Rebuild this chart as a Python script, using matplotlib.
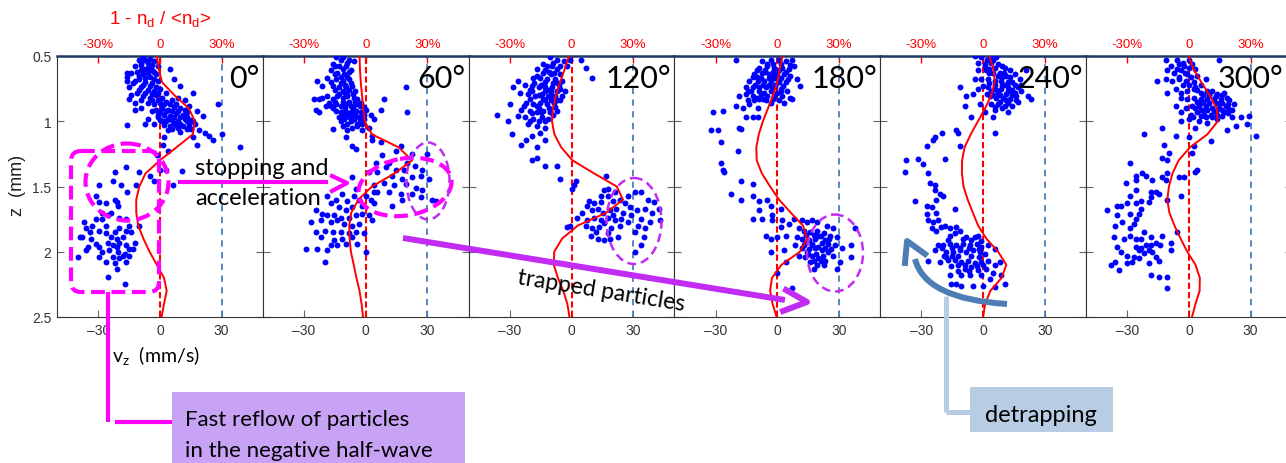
import numpy as np
import matplotlib
matplotlib.use('Agg')
import matplotlib.pyplot as plt
from matplotlib.patches import Ellipse, FancyBboxPatch, Rectangle, PathPatch
from matplotlib.path import Path

# 図のサイズ (px)
W, H = 1286, 464

# 位相ラベル
angles = ['0°', '60°', '120°', '180°', '240°', '300°']

# 密度変化曲線 1 - n_d/<n_d> [%] (z = 0.5 ... 2.5 mm)
z_grid = [0.5, 0.6, 0.7, 0.8, 0.9, 1.0, 1.1, 1.2, 1.3, 1.4, 1.5,
          1.6, 1.7, 1.8, 1.9, 2.0, 2.1, 2.2, 2.3, 2.4, 2.5]
dens_0 = [-1.5, -0.5, 1, 7, 14, 17, 16, 8, 0, -7, -10,
          -11.5, -11.5, -10.5, -8, -5, -1.5, 2, 3.3, 2, 0.8]
dens_60 = [-3, -2.8, -2.4, -1.8, -1.2, -0.5, 3, 16, 22.5, 14, 3,
           -3.5, -7, -8, -7.8, -7.2, -5.8, -4.5, -3, -2, -1.3]
dens_120 = [-1.3, -3.3, -5.5, -7.5, -9, -9.5, -8.3, -5, 0.5, 11, 22,
            25, 17, 3, -4.6, -8.4, -8.6, -6.6, -4, -2, -1]
dens_180 = [2.5, 1.2, 0, -2, -4.5, -7, -9, -10.2, -10, -7.5, -3.5,
            0.8, 6.5, 12.5, 14.5, 11, 2, -2.6, -3.5, -2.3, -0.3]
dens_240 = [3, 5, 5.7, 4, 1, -2.5, -6, -9, -10.2, -10.3, -9.5,
            -7.5, -5, -2.4, 1.6, 7.3, 11.3, 9, 3.5, 1, 0]
dens_300 = [0, 2.2, 6, 10, 13.5, 14, 9, 0.5, -5, -8, -9.7,
            -10.5, -9.5, -7, -4, -0.8, 3.2, 5.3, 5.2, 3.2, 1.5]

# 粒子 (v_z [mm/s], z [mm])
pts_0 = [
    (-8, 0.51), (-5, 0.52), (-10, 0.53), (-6, 0.55), (-3, 0.54), (-9, 0.57), (-12, 0.58), (-7, 0.6),
    (-4, 0.61), (-1, 0.58), (-11, 0.62), (-14, 0.63), (-8, 0.64), (-5, 0.66), (-2, 0.64), (-16, 0.66),
    (-10, 0.68), (-7, 0.7), (-13, 0.71), (-4, 0.71), (-1, 0.69), (-15, 0.74), (-9, 0.74), (-6, 0.76),
    (-11, 0.78), (-3, 0.77), (0, 0.75), (-14, 0.8), (-8, 0.81), (-5, 0.82), (-2, 0.8), (1, 0.82),
    (-12, 0.86), (-6, 0.86), (-3, 0.87), (0, 0.86), (3, 0.85), (6, 0.84), (-9, 0.9), (-4, 0.92),
    (1, 0.9), (4, 0.91), (7, 0.89), (10, 0.9), (-1, 0.95), (2, 0.95), (5, 0.96), (8, 0.94),
    (11, 0.95), (13, 0.93), (-6, 0.98), (0, 0.99), (3, 1.0), (6, 0.99), (9, 1.0), (12, 0.98),
    (15, 0.99), (-3, 1.02), (2, 1.03), (5, 1.04), (8, 1.03), (11, 1.04), (14, 1.03), (17, 1.02),
    (-16, 1.03), (-7, 1.02), (4, 1.07), (10, 1.08), (13, 1.06), (19, 1.07), (22, 1.09), (2, 1.12),
    (16, 1.12), (24, 1.11), (26, 1.14), (30, 1.1), (21, 0.96), (28, 0.87), (18, 1.18), (39, 1.2),
    (1.6, 1.18), (4, 1.23), (-1.6, 1.26), (-12, 0.91), (-15, 0.83), (-16, 0.69), (-16, 0.63), (10, 0.73),
    (5, 0.6), (7, 0.68), (16, 0.78), (12, 0.84), (3, 0.78), (9, 0.82), (14, 0.88), (18, 0.92),
    (-7, 0.53), (-9, 0.55), (-4, 0.57), (-6, 0.59), (-9, 0.61), (-3, 0.62), (-6, 0.63), (-10, 0.65),
    (-7, 0.67), (-3, 0.68), (-12, 0.69), (-8, 0.72), (-5, 0.73), (-2, 0.74), (-10, 0.76), (-7, 0.78),
    (-4, 0.79), (-1, 0.78), (-9, 0.84), (-4, 0.84), (-1, 0.84), (2, 0.87), (5, 0.87), (8, 0.87),
    (-2, 0.91), (3, 0.92), (6, 0.92), (9, 0.92), (12, 0.91), (0, 0.93), (4, 0.98), (7, 0.97),
    (10, 0.97), (13, 0.97), (1, 1.0), (7, 1.01), (10, 1.02), (13, 1.0), (16, 1.0), (6, 1.06),
    (9, 1.05), (15, 1.06), (-1, 0.97), (2, 1.0),
    (-16.4, 1.35), (-22, 1.39), (-23, 1.46), (-31, 1.57), (-29.5, 1.62), (-26, 1.63), (-22, 1.6), (-21, 1.62),
    (-20.5, 1.65), (-28, 1.7), (-37, 1.77), (-36, 1.82), (-33, 1.8), (-29.5, 1.84), (-26, 1.8), (-39, 1.89),
    (-33.6, 1.9), (-31, 1.94), (-26, 1.86), (-24, 1.89), (-22, 1.85), (-21, 1.9), (-19.7, 1.93), (-18, 1.89),
    (-16.4, 1.95), (-14.8, 1.98), (-14, 1.85), (-23, 1.95), (-24.6, 1.99), (-20.5, 2.0), (-18, 2.03), (-35, 1.96),
    (-36, 1.99), (-40, 2.04), (-29.5, 2.04), (-26, 2.08), (-22, 2.09), (-21, 2.13), (-25, 2.19), (-17, 2.25),
    (-19.7, 2.05), (-16.4, 2.08), (-13, 1.98), (-12, 1.93), (-10, 1.8), (-11.5, 1.49), (-10, 1.39), (-5, 1.42),
    (-3, 1.46), (0, 1.37), (3, 1.37), (6.5, 1.49), (10.6, 1.38), (-16, 1.54), (-19, 1.49), (-29.5, 1.49),
    (-37.7, 1.89), (-34, 1.85), (-31, 1.75), (-28, 1.75), (-25, 1.72), (-24, 1.7), (-19.7, 1.74), (-16.4, 1.75),
    (-14.8, 1.8), (-19.7, 1.82), (-16.4, 1.84), (-17.2, 2.02), (-23, 2.04), (-14.8, 2.03), (-29.5, 1.96), (-28, 2.0),
    (-25, 1.93), (-21, 1.96),
]
pts_60 = [
    (-14.6, 0.51), (-11, 0.51), (-8, 0.53), (-5.7, 0.54), (-16, 0.56), (-13, 0.58), (-9.7, 0.58), (-17, 0.61),
    (-13.8, 0.63), (-10.5, 0.64), (-7.3, 0.61), (-18.6, 0.67), (-14.6, 0.68), (-11, 0.69), (-8, 0.68), (-23.5, 0.69),
    (-21, 0.73), (-16, 0.73), (-13, 0.74), (-9.7, 0.74), (-6.5, 0.73), (-25, 0.83), (-22.7, 0.83), (-18.6, 0.81),
    (-16, 0.83), (-13.8, 0.81), (-11, 0.82), (-8.9, 0.81), (-5.7, 0.82), (-4, 0.83), (-19.4, 0.88), (-17, 0.88),
    (-14.6, 0.87), (-12, 0.88), (-9.7, 0.87), (-7.3, 0.88), (-4.9, 0.87), (-2.4, 0.86), (-24, 0.91), (-14.6, 0.92),
    (-12, 0.93), (-9.7, 0.93), (-7.3, 0.93), (-4.9, 0.92), (-2.4, 0.93), (0, 0.91), (-13, 0.97), (-10.5, 0.98),
    (-8, 0.97), (-5.7, 0.98), (-3.2, 0.97), (-0.8, 0.98), (2.4, 0.95), (4, 0.98), (-16, 1.06), (-11, 1.04),
    (-8.9, 1.07), (-6.5, 1.05), (-4, 1.04), (-1.6, 1.07), (1.6, 1.05), (3.2, 1.11), (7.3, 1.16), (-4.9, 1.21),
    (-6.5, 1.19), (-9.7, 1.12), (3.2, 1.14), (8.9, 0.83), (7.3, 0.91), (19.4, 0.74), (20, 0.93), (-22.7, 0.93),
    (-17.8, 0.86), (-21, 0.82), (-10, 0.78), (-6, 0.9), (-3, 1.0), (-12, 1.0), (-7, 0.95), (-1, 0.89),
    (-12, 0.53), (-9, 0.55), (-15, 0.58), (-11, 0.6), (-8, 0.62), (-15, 0.64), (-12, 0.66), (-9, 0.66),
    (-17, 0.7), (-12, 0.71), (-10, 0.72), (-7, 0.71), (-15, 0.76), (-11, 0.77), (-8, 0.76), (-5, 0.77),
    (-13, 0.79), (-9, 0.8), (-6, 0.79), (-15, 0.85), (-11, 0.85), (-8, 0.85), (-5, 0.85), (-3, 0.88),
    (-16, 0.9), (-10, 0.9), (-6, 0.91), (-1, 0.95), (-9, 0.95), (-5, 0.95), (-11, 0.95), (-7, 1.0),
    (-4, 1.02), (-2, 1.02), (-9, 1.02),
    (17, 1.19), (14.6, 1.23), (22.7, 1.25), (30, 1.25), (8, 1.26), (11.3, 1.32), (4.9, 1.32), (20, 1.32),
    (24, 1.34), (27.5, 1.37), (18.6, 1.37), (14.6, 1.37), (9.7, 1.35), (5.7, 1.39), (1.6, 1.39), (13, 1.42),
    (17.8, 1.44), (22.7, 1.43), (26.7, 1.42), (30.8, 1.44), (9, 1.47), (13.8, 1.49), (19.4, 1.48), (24.3, 1.51),
    (27.5, 1.53), (4, 1.49), (5.7, 1.54), (11.3, 1.54), (17, 1.56), (22.7, 1.56), (26.7, 1.58), (32.4, 1.6),
    (34, 1.61), (13, 1.65), (4, 1.63), (17.8, 1.6), (-6.5, 1.43), (-4.9, 1.52), (-3.2, 1.6), (0, 1.57),
    (2.4, 1.6), (-1.6, 1.65), (-5.7, 1.57),
    (-18.6, 1.57), (-14.6, 1.6), (-11.3, 1.56), (-9, 1.61), (-17, 1.63), (-13, 1.66), (-9.7, 1.68), (-6.5, 1.66),
    (-24.3, 1.68), (-21, 1.71), (-18.6, 1.72), (-15.4, 1.72), (-12, 1.74), (-8, 1.74), (-4.9, 1.72), (-1.6, 1.71),
    (1.6, 1.72), (-26.7, 1.77), (-21.9, 1.76), (-17, 1.77), (-13.8, 1.76), (-10.5, 1.79), (-6.5, 1.8), (-3.2, 1.79),
    (3.2, 1.76), (-24.3, 1.85), (-20, 1.84), (-16, 1.85), (-12, 1.85), (-8, 1.86), (-4.9, 1.85), (-0.8, 1.86),
    (-21.9, 1.89), (-15.4, 1.91), (-11.3, 1.9), (-6.5, 1.89), (-4, 1.94), (-17, 1.95), (-13.8, 1.95), (-9.7, 1.94),
    (-29, 1.98), (-23.5, 1.98), (-18.6, 1.99), (-20, 2.08), (0, 2.0), (4, 1.54),
]
pts_120 = [
    (-10.4, 0.51), (-7, 0.53), (-3.8, 0.54), (-0.5, 0.53), (4.4, 0.53), (6.9, 0.59), (10.2, 0.67), (-13.7, 0.56),
    (-9.6, 0.58), (-5.4, 0.58), (-2.1, 0.58), (-17, 0.6), (-12.9, 0.61), (-8.7, 0.63), (-5.4, 0.64), (-18.6, 0.67),
    (-15.3, 0.67), (-12, 0.68), (-7.9, 0.68), (-4.6, 0.69), (-26, 0.69), (-28.5, 0.74), (-22.7, 0.72), (-19.4, 0.73),
    (-16, 0.74), (-12.9, 0.74), (-9.6, 0.74), (-5.4, 0.75), (-3, 0.77), (-25.2, 0.78), (-21, 0.79), (-17.8, 0.81),
    (-14.5, 0.79), (-11.2, 0.81), (-7.9, 0.81), (-4.6, 0.81), (-30, 0.87), (-21.9, 0.86), (-18.6, 0.87), (-15.3, 0.86),
    (-12, 0.87), (-8.7, 0.86), (-5.4, 0.84), (-36, 0.95), (-31, 1.0), (-24.4, 0.91), (-20.3, 0.92), (-17, 0.93),
    (-13.7, 0.92), (-10.4, 0.93), (-7, 0.92), (-26, 0.96), (-22.7, 0.97), (-18.6, 0.98), (-14.5, 0.97), (-11.2, 0.98),
    (-21, 1.02), (-17, 1.04), (-12.9, 1.05), (-29, 1.1), (-24.4, 1.18), (-21.9, 1.14), (-19.4, 1.11), (-15.3, 1.09),
    (-12.9, 1.14), (-17, 1.2), (-17, 1.28), (-19.4, 1.3), (-12.9, 1.34), (-7, 1.34), (-5.4, 1.44), (2, 1.46),
    (1.2, 1.49), (0.3, 1.52), (-2.1, 1.81), (-0.5, 1.8), (-14, 0.83), (-10, 0.77), (-16, 0.9), (-8, 0.89),
    (-20, 0.76), (-11, 0.62), (-6.5, 0.71), (-13, 1.0),
    (-9, 0.55), (-12, 0.58), (-7, 0.6), (-14, 0.63), (-10, 0.64), (-17, 0.65), (-13, 0.7), (-9, 0.71),
    (-6, 0.72), (-18, 0.71), (-15, 0.72), (-11, 0.76), (-7, 0.77), (-19, 0.77), (-13, 0.77), (-16, 0.8),
    (-10, 0.8), (-20, 0.83), (-13, 0.84), (-10, 0.84), (-7, 0.84), (-17, 0.88), (-23, 0.88), (-11, 0.9),
    (-15, 0.93), (-19, 0.94), (-9, 0.95), (-16, 1.0), (-20, 1.0),
    (16.8, 1.42), (17.6, 1.52), (17.6, 1.57), (8.6, 1.61), (7.7, 1.65), (11, 1.63), (14.3, 1.62), (20, 1.61),
    (23.4, 1.6), (27.5, 1.57), (30.8, 1.54), (34, 1.54), (37.4, 1.6), (40, 1.62), (2.8, 1.74), (5.3, 1.7),
    (10.2, 1.68), (12.7, 1.67), (15.2, 1.7), (18.5, 1.68), (21.7, 1.67), (25, 1.7), (28.3, 1.66), (31.6, 1.68),
    (35.7, 1.67), (39, 1.7), (42.3, 1.67), (43, 1.76), (7.7, 1.76), (11, 1.74), (14.3, 1.76), (17.6, 1.74),
    (21, 1.76), (24.2, 1.75), (27.5, 1.77), (34, 1.75), (38.2, 1.77), (6.9, 1.8), (10.2, 1.82), (13.5, 1.81),
    (19.3, 1.82), (23.4, 1.8), (30.8, 1.85), (35.7, 1.82), (9.4, 1.88), (12.7, 1.9), (16, 1.91), (18.5, 1.9),
    (22.6, 1.89), (35, 1.89), (30.8, 2.0), (34, 1.95), (16, 1.53), (21, 1.54), (14.3, 1.57), (25.9, 1.63),
    (20, 1.72), (16, 1.78), (29, 1.72), (32.4, 1.8), (11.9, 1.85), (17.6, 1.86),
]
pts_180 = [
    (-20, 0.53), (-7.2, 0.54), (-3.2, 0.53), (0.8, 0.53), (4, 0.54), (7.2, 0.53), (8, 0.58), (-8.8, 0.59),
    (-4.8, 0.58), (-1.6, 0.59), (2.4, 0.59), (5.6, 0.6), (-11.2, 0.64), (-7.2, 0.63), (-4, 0.64), (0, 0.64),
    (3.2, 0.64), (6.4, 0.65), (9.6, 0.68), (-13.6, 0.69), (-9.6, 0.69), (-6.4, 0.69), (-3.2, 0.69), (0.8, 0.7),
    (4, 0.7), (11.2, 0.73), (-15.2, 0.74), (-12, 0.74), (-8.8, 0.74), (-5.6, 0.74), (-2.4, 0.74), (1.6, 0.75),
    (4.8, 0.77), (-18.5, 0.81), (-15.2, 0.79), (-12, 0.81), (-8, 0.79), (-4.8, 0.81), (-1.6, 0.81), (2.4, 0.81),
    (6.4, 0.82), (-20, 0.88), (-16.9, 0.9), (-13.6, 0.87), (-9.6, 0.9), (-5.6, 0.84), (-3.2, 0.86), (3.2, 0.86),
    (7.2, 0.83), (-14.4, 0.77), (-11.2, 0.84), (-31.3, 0.93), (-26.5, 0.92), (-15.2, 0.97), (-12, 0.97), (-9.6, 0.97),
    (-32, 1.07), (-29, 1.07), (-18.5, 1.05), (-17.6, 1.06), (-27.3, 1.16), (-19.3, 1.23), (-27.3, 1.32), (-26.5, 1.37),
    (-25.7, 1.39), (-6, 0.61), (-2, 0.66), (-10, 0.66), (-6.5, 0.78), (-1, 0.72), (2, 0.77), (-9, 0.83),
    (-5, 0.56), (-2, 0.56), (2, 0.56), (6, 0.57), (-10, 0.61), (-6, 0.62), (-2, 0.62), (1, 0.61),
    (4, 0.62), (-12, 0.66), (-8, 0.67), (-4, 0.67), (-1, 0.67), (2, 0.67), (5, 0.68), (-11, 0.72),
    (-7, 0.72), (-4, 0.72), (-1, 0.73), (3, 0.73), (-13, 0.77), (-9, 0.77), (-3, 0.77), (0, 0.78),
    (-10, 0.82), (-7, 0.83), (-2, 0.83), (1, 0.84), (-14, 0.84),
    (-17.6, 1.46), (-12, 1.48), (-22.5, 1.56), (-17.6, 1.6), (-12, 1.57), (-8.8, 1.61), (-4.8, 1.6), (-3.2, 1.65),
    (-8.8, 1.68), (-2.4, 1.72), (1.6, 1.67), (-12, 1.75), (-7.2, 1.75), (-2.4, 1.76), (2.4, 1.76), (5.6, 1.79),
    (8, 1.75), (1.6, 1.81), (-5.6, 1.88), (-3.2, 1.9), (0, 1.89), (4, 1.88), (-3.2, 2.0), (3.2, 1.99),
    (4, 2.08), (7.2, 2.28), (0, 2.16),
    (12, 1.76), (14.4, 1.77), (16.9, 1.76), (19.3, 1.77), (24, 1.8), (27.3, 1.82), (37.6, 1.82), (10.4, 1.82),
    (12.8, 1.84), (16, 1.85), (19.3, 1.84), (22.5, 1.86), (25.7, 1.88), (28.9, 1.89), (9.6, 1.89), (12, 1.9),
    (15.2, 1.91), (18.5, 1.9), (21.7, 1.93), (24.8, 1.94), (28, 1.95), (31.3, 1.97), (36, 1.95), (8.8, 1.95),
    (12, 1.97), (15.2, 1.98), (18.5, 1.97), (21.7, 1.99), (24.8, 2.0), (27.3, 2.03), (10.4, 2.03), (13.6, 2.04),
    (16.9, 2.03), (20, 2.05), (23.3, 2.07), (30.5, 2.08), (36, 2.04), (16, 2.08), (19.3, 2.1), (22.5, 2.1),
    (17.7, 2.13), (28.9, 2.13), (13.6, 1.93), (16.9, 1.94), (20, 1.88), (23.3, 1.91), (14.4, 2.0),
    (14, 1.87), (18, 1.87), (21, 1.88), (13, 1.95), (17, 1.95), (20, 1.96), (23, 1.97), (15, 2.02),
    (19, 2.02), (22, 2.03), (18, 2.07), (21, 2.07), (25, 1.9), (26, 1.98),
]
pts_240 = [
    (-4, 0.5), (-0.8, 0.51), (3.2, 0.5), (6.5, 0.51), (-2.4, 0.55), (0.8, 0.56), (4, 0.55), (7.3, 0.56),
    (10.5, 0.59), (13, 0.61), (-2.4, 0.61), (1.6, 0.61), (4.9, 0.63), (8.1, 0.63), (11.3, 0.65), (15.4, 0.64),
    (17.8, 0.68), (21, 0.61), (-4, 0.68), (-0.8, 0.68), (2.4, 0.68), (5.7, 0.69), (8.9, 0.69), (12.2, 0.7),
    (15.4, 0.72), (18.6, 0.72), (-11.3, 0.74), (-4.9, 0.79), (-2.4, 0.75), (2.4, 0.74), (5.7, 0.75), (8.9, 0.75),
    (12.2, 0.77), (15.4, 0.78), (18.6, 0.77), (21.9, 0.81), (23.5, 0.83), (-8.1, 0.81), (-8.9, 0.88), (-1.6, 0.87),
    (3.2, 0.81), (6.5, 0.82), (9.7, 0.82), (13, 0.83), (16.2, 0.84), (4, 0.87), (7.3, 0.87), (10.5, 0.88),
    (13.8, 0.88), (12.2, 0.93), (5.7, 0.91), (0.8, 0.93), (-5.7, 0.97), (4.9, 0.97), (5.7, 1.09), (-12.2, 1.09),
    (-13, 1.07), (10, 0.72), (14, 0.8), (7, 0.78), (3, 0.6), (9, 0.66), (12, 0.74), (17, 0.85),
    (2, 0.53), (5, 0.53), (9, 0.58), (1, 0.58), (6, 0.59), (3, 0.63), (7, 0.65), (10, 0.63),
    (13, 0.66), (3, 0.71), (6, 0.72), (9, 0.72), (14, 0.7), (17, 0.74), (4, 0.77), (7, 0.77),
    (11, 0.79), (14, 0.76), (16, 0.81), (5, 0.8), (8, 0.8), (11, 0.84), (8, 0.85), (6, 0.89),
    (9, 0.9), (12, 0.86), (2, 0.79), (0, 0.73),
    (-20, 1.09), (-23.5, 1.12), (-24.3, 1.14), (-27.5, 1.19), (-11.3, 1.19), (-37.3, 1.3), (-31.6, 1.29), (-29.2, 1.33),
    (-18.6, 1.29), (-38, 1.39), (-26.7, 1.4), (-25.9, 1.47), (-23.5, 1.49), (-23.5, 1.53), (-21, 1.56), (-19.4, 1.57),
    (-33.2, 1.61), (-22.7, 1.6), (-27.5, 1.65), (-25, 1.66), (-13.8, 1.67), (-22.7, 1.7), (-27.5, 1.71), (-26.7, 1.76),
    (-24.3, 1.77), (-21.9, 1.76), (-20.3, 1.81), (-18.6, 1.8), (-25, 1.82), (-22.7, 1.84), (-16.2, 1.82), (-13, 1.81),
    (-11.3, 1.84), (-13.8, 1.86), (-16.2, 1.88), (-8.1, 1.89), (-4, 1.89), (-5.7, 1.91), (-2.4, 1.88),
    (-21.9, 1.95), (-19.4, 1.95), (-16.2, 1.94), (-13, 1.95), (-9.7, 1.94), (-6.5, 1.95), (-3.2, 1.94), (-0.8, 1.96),
    (2.4, 1.95), (5.7, 1.98), (-23.5, 1.99), (-17.8, 2.0), (-14.6, 2.0), (-11.3, 1.99), (-8.1, 2.0), (-4.9, 1.99),
    (-1.6, 2.0), (-26.7, 2.07), (-17, 2.06), (-13.8, 2.06), (-10.5, 2.08), (-7.3, 2.07), (-4, 2.09), (-0.8, 2.08),
    (2.4, 2.07), (5.7, 2.1), (8.1, 2.08), (-15.4, 2.11), (-12.2, 2.1), (-8.9, 2.13), (-5.7, 2.12), (-2.4, 2.14),
    (1.6, 2.13), (4.9, 2.16), (8.9, 2.18), (-16.2, 2.18), (-10.5, 2.18), (-6.5, 2.18), (-0.8, 2.18), (3.2, 2.21),
    (10.5, 2.25), (-15.4, 2.25), (-13, 2.25), (-10.5, 2.26), (-4.9, 2.26), (0, 2.26), (5.7, 2.27), (-17.8, 2.04),
    (-21, 2.08), (-20, 1.97), (-15, 1.97), (-11, 1.97), (-7, 1.97), (-2, 1.98), (-19, 2.03), (-15, 2.03),
    (-12, 2.03), (-6, 2.03), (-2, 2.04), (1, 2.02), (-9, 2.1), (-3, 2.11), (-12, 2.15), (-7, 2.15),
    (0, 2.1), (-17, 1.91), (-10, 1.9), (-1, 1.92),
]
pts_300 = [
    (-11.3, 0.53), (-5.7, 0.53), (0, 0.53), (14.6, 0.53), (-8.9, 0.58), (-4.9, 0.56), (-2.4, 0.58), (1.6, 0.56),
    (3.2, 0.6), (-10.5, 0.61), (-7.3, 0.63), (-4, 0.61), (-0.8, 0.64), (4, 0.65), (8.1, 0.68), (-15.4, 0.69),
    (-11.3, 0.68), (-8.1, 0.69), (-4.9, 0.68), (-1.6, 0.69), (2.4, 0.7), (5.7, 0.72), (-10.5, 0.78), (-6.5, 0.75),
    (-4, 0.78), (-0.8, 0.77), (2.4, 0.75), (5.7, 0.78), (8.9, 0.77), (11.3, 0.77), (13.8, 0.79), (17, 0.78),
    (19.4, 0.84), (21.9, 0.87), (-4, 0.82), (-0.8, 0.83), (2.4, 0.82), (5.7, 0.83), (8.9, 0.83), (12.2, 0.83),
    (15.4, 0.83), (18.6, 0.82), (-6.5, 0.88), (-1.6, 0.9), (1.6, 0.88), (4.9, 0.88), (8.1, 0.88), (11.3, 0.9),
    (14.6, 0.9), (17.8, 0.88), (21, 0.91), (-4, 0.93), (0.8, 0.95), (4, 0.93), (7.3, 0.95), (10.5, 0.95),
    (13.8, 0.95), (17, 0.93), (21, 0.97), (-4, 1.0), (0, 0.98), (4.9, 1.0), (8.1, 0.97), (13.8, 0.98),
    (22.7, 1.04), (18.6, 1.07), (28.4, 1.02), (29.2, 0.96), (25.1, 0.97), (32.4, 1.11), (10.5, 1.15), (3.2, 1.05),
    (0, 1.12), (6, 0.86), (10, 0.8), (15, 0.86), (3, 0.74), (12, 0.92), (7, 0.91), (19, 0.94),
    (-3, 0.55), (0, 0.59), (-6, 0.6), (-2, 0.63), (1, 0.66), (-5, 0.66), (-3, 0.72), (0, 0.72),
    (4, 0.76), (7, 0.8), (10, 0.8), (13, 0.81), (16, 0.8), (4, 0.85), (7, 0.85), (10, 0.86),
    (13, 0.86), (16, 0.86), (19, 0.87), (3, 0.9), (6, 0.91), (9, 0.91), (13, 0.92), (16, 0.91),
    (19, 0.9), (6, 0.96), (11, 0.97), (16, 0.96), (2, 0.97), (9, 1.01),
    (-13, 1.05), (-21.9, 1.1), (-6.5, 1.11), (-12.2, 1.18), (2.4, 1.19), (-9.7, 1.24), (1.6, 1.24), (-13, 1.28),
    (-10.5, 1.3), (-28.4, 1.32), (4, 1.37), (3.2, 1.39), (-22.7, 1.4), (-21, 1.42), (-25.9, 1.42), (-10.5, 1.4),
    (-13, 1.43), (-4.9, 1.43), (-2.4, 1.43), (-30.8, 1.47), (-25.9, 1.45), (-17.8, 1.45), (-11.3, 1.45), (-25.9, 1.53),
    (-18.6, 1.54), (-16.2, 1.54), (-14.6, 1.56), (-4, 1.57), (-28.4, 1.57), (-10.5, 1.6), (-18.6, 1.58), (-19.4, 1.62),
    (-23.5, 1.61), (-30, 1.63), (-25.9, 1.63), (-34.8, 1.65), (-39.7, 1.68), (-33.2, 1.65), (-23.5, 1.67), (-24.3, 1.71),
    (-28.4, 1.71), (-34.8, 1.72), (-25.9, 1.75), (-32.4, 1.77), (-35.7, 1.8), (-28.4, 1.82), (-26.7, 1.79), (-21.9, 1.85),
    (-5.7, 1.85), (-13, 1.88), (-31.6, 1.9), (-28.4, 1.88), (-25.9, 1.9), (-23.5, 1.9), (-18.6, 1.89), (-16.2, 1.93),
    (-13.8, 1.95), (-8.9, 1.93), (-8.9, 1.99), (-36.5, 1.89), (-34.8, 1.96), (-33.2, 2.0), (-30, 2.03), (-25.9, 1.96),
    (-23.5, 1.97), (-21.9, 2.01), (-19.4, 1.99), (-17.8, 2.0), (-16.2, 2.04), (-14.6, 2.07), (-19.4, 2.09), (-24.3, 2.05),
    (-26.7, 2.04), (-27.5, 2.08), (-38, 2.1), (-35.7, 2.08), (-34, 2.14), (-30, 2.09), (-18.6, 2.18), (-14.6, 2.19),
    (-10.5, 2.19), (-10.5, 2.28), (-24.3, 1.99), (-21, 1.95), (-18.6, 1.95),
]

dens_list = [dens_0, dens_60, dens_120, dens_180, dens_240, dens_300]
pts_list = [pts_0, pts_60, pts_120, pts_180, pts_240, pts_300]

# 配色
c_pts = '#0000ff'
c_red = '#ff0000'
c_blue = '#4a7ebb'
c_navy = '#1f3868'
c_mag = '#ff00ff'
c_vio = '#c22cf2'
c_steel = '#4e7db6'

tick_font = 'Liberation Sans'
ann_font = 'Lato'

fig = plt.figure(figsize=(W / 100, H / 100), dpi=100)

x0, pw = 57, 205.8
for i in range(6):
    ax = fig.add_axes([(x0 + i * pw) / W, (H - 318) / H, pw / W, 261 / H])
    pts = np.array(pts_list[i])
    ax.scatter(pts[:, 0], pts[:, 1], s=18, c=c_pts, linewidths=0, zorder=3)
    ax.plot(dens_list[i], z_grid, color=c_red, lw=1.4, zorder=4)
    ax.axvline(0, color=c_red, lw=1.5, ls=(0, (3, 1.5)), zorder=2)
    ax.axvline(30, color=c_blue, lw=1.3, ls=(0, (3.5, 3)), zorder=2)
    ax.set_xlim(-50, 50)
    ax.set_ylim(2.5, 0.5)
    ax.set_xticks([-30, 0, 30])
    ax.set_xticklabels(['\u201330', '0', '30'], fontfamily=tick_font)
    ax.set_yticks([0.5, 1, 1.5, 2, 2.5])
    if i == 0:
        ax.set_yticklabels(['0.5', '1', '1.5', '2', '2.5'], fontfamily=tick_font)
    else:
        ax.set_yticklabels([])
    ax.tick_params(direction='in', length=5, width=0.8, color='#666666',
                   labelsize=10, labelcolor='#333333', left=True, right=True, pad=4)
    for s in ['left', 'right', 'bottom']:
        ax.spines[s].set_color('#333333')
        ax.spines[s].set_linewidth(0.8)
    ax.spines['top'].set_color(c_navy)
    ax.spines['top'].set_linewidth(1.8)

    # 上側の軸 (密度)
    sec = ax.secondary_xaxis('top')
    sec.set_xticks([-30, 0, 30])
    sec.set_xticklabels(['-30%', '0', '30%'], fontfamily=tick_font)
    sec.tick_params(direction='in', length=5, width=1.0, colors=c_red, labelsize=9.5, pad=4)
    sec.spines['top'].set_visible(False)

    # 位相ラベル (最後のパネルは図の端に収める)
    lx = 0.985 if i < 5 else (1283 - (x0 + i * pw)) / pw
    ax.text(lx, 0.881, angles[i], transform=ax.transAxes, ha='right', va='baseline',
            fontsize=22, fontfamily=ann_font, color='black', zorder=6)

# 軸ラベル・タイトル
fig.text(18 / W, 1 - 185 / H, 'z  (mm)', rotation=90, ha='center', va='center',
         fontsize=13, fontfamily=tick_font, color='#222222')
fig.text(160 / W, 1 - 20 / H, r'1 - n$_\mathregular{d}$ / <n$_\mathregular{d}$>',
         ha='center', va='center', fontsize=13.5, fontfamily=tick_font, color=c_red)

# 注釈用のオーバーレイ (ピクセル座標)
ov = fig.add_axes([0, 0, 1, 1], zorder=10)
ov.set_xlim(0, W)
ov.set_ylim(H, 0)
ov.axis('off')

ov.text(112, 363, r'v$_\mathregular{z}$  (mm/s)', fontsize=14, fontfamily=ann_font,
        va='baseline', ha='left', color='black')

# 速い逆流 (左パネル)
ov.add_patch(FancyBboxPatch((71, 152), 88, 141, boxstyle='round,pad=0,rounding_size=10',
                            fill=False, ec=c_mag, lw=3, ls=(0, (3.3, 1.6))))
ov.add_patch(Ellipse((127, 183), 83, 77, fill=False, ec=c_mag, lw=3, ls=(0, (3.3, 1.6))))
ov.plot([108, 108], [293, 423], color=c_mag, lw=3, solid_capstyle='butt')
ov.plot([115, 172], [423, 423], color=c_mag, lw=3, solid_capstyle='butt')
ov.add_patch(Rectangle((172, 393), 293, 80, fc='#c8a2f5', ec='none'))
ov.text(185, 426, 'Fast reflow of particles', fontsize=16, fontfamily=ann_font, va='baseline')
ov.text(185, 457, 'in the negative half-wave', fontsize=16, fontfamily=ann_font, va='baseline')

# stopping and acceleration
ov.plot([178, 328], [183, 183], color=c_mag, lw=3, solid_capstyle='butt')
ov.plot([332, 347, 332], [177, 184, 192], color=c_mag, lw=3)
ov.text(195, 175, 'stopping and', fontsize=17, fontfamily=ann_font, va='baseline')
ov.text(195, 205, 'acceleration', fontsize=17, fontfamily=ann_font, va='baseline')
ov.add_patch(Ellipse((405, 188), 94, 57, angle=-10, fill=False, ec=c_mag, lw=3, ls=(0, (3.3, 1.6))))

# trapped particles
for (cx, cy, ew, eh) in [(428, 182, 43, 77), (634, 222, 55, 86), (835, 254, 56, 77)]:
    ov.add_patch(Ellipse((cx, cy), ew, eh, fill=False, ec=c_vio, lw=1.8, ls=(0, (3.5, 2))))
ov.plot([403, 785], [239, 301], color=c_vio, lw=4.3, solid_capstyle='butt')
ov.plot([786, 807, 783], [291, 303, 312], color=c_vio, lw=4.3)
ov.text(601, 291, 'trapped particles', fontsize=16.5, fontfamily=ann_font, rotation=-9.2,
        rotation_mode='anchor', ha='center', va='center')

# detrapping
verts = [(1007, 305), (925, 300), (915, 260)]
ov.add_patch(PathPatch(Path(verts, [Path.MOVETO, Path.CURVE3, Path.CURVE3]),
                       fill=False, ec=c_steel, lw=4.3))
ov.plot([905, 907, 925], [264, 242, 255], color=c_steel, lw=4.3)
ov.plot([946, 946], [297, 413], color='#b8cce4', lw=3.6, solid_capstyle='butt')
ov.plot([946, 970], [413, 413], color='#b8cce4', lw=3.6, solid_capstyle='butt')
ov.add_patch(Rectangle((970, 388), 143, 45, fc='#b8cce4', ec='none'))
ov.text(1041, 416, 'detrapping', fontsize=17, fontfamily=ann_font, ha='center', va='center')

fig.savefig('out.png', dpi=100)
